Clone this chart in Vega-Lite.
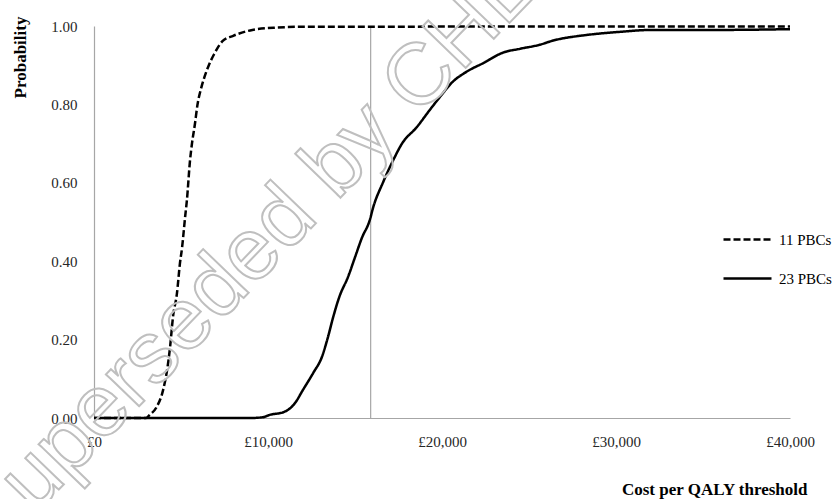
{
  "$schema": "https://vega.github.io/schema/vega-lite/v6.json",
  "width": 696,
  "height": 392,
  "autosize": {"type": "none"},
  "padding": {"left": 94, "top": 26, "right": 44, "bottom": 81},
  "background": "white",
  "config": {
    "view": {"stroke": null},
    "font": "Liberation Serif",
    "axis": {"labelFont": "Liberation Serif", "titleFont": "Liberation Serif", "labelFontSize": 15, "labelColor": "#262626", "titleColor": "#000000", "grid": false, "ticks": false, "domainColor": "#a6a6a6", "domainWidth": 1.2}
  },
  "layer": [
    {
      "data": {"values": [{"threshold": 15900}]},
      "mark": {"type": "rule", "color": "#a6a6a6", "strokeWidth": 1.2},
      "encoding": {"x": {"field": "threshold", "type": "quantitative"}}
    },
    {
      "data": {"values": [
        {"x": 0, "p": 0, "s": "11 PBCs"},
        {"x": 3000, "p": 0, "s": "11 PBCs"},
        {"x": 3200, "p": 0.008, "s": "11 PBCs"},
        {"x": 3600, "p": 0.028, "s": "11 PBCs"},
        {"x": 3970, "p": 0.071, "s": "11 PBCs"},
        {"x": 4200, "p": 0.122, "s": "11 PBCs"},
        {"x": 4370, "p": 0.18, "s": "11 PBCs"},
        {"x": 4540, "p": 0.258, "s": "11 PBCs"},
        {"x": 4770, "p": 0.319, "s": "11 PBCs"},
        {"x": 4940, "p": 0.395, "s": "11 PBCs"},
        {"x": 5060, "p": 0.434, "s": "11 PBCs"},
        {"x": 5230, "p": 0.51, "s": "11 PBCs"},
        {"x": 5340, "p": 0.556, "s": "11 PBCs"},
        {"x": 5520, "p": 0.658, "s": "11 PBCs"},
        {"x": 5630, "p": 0.7, "s": "11 PBCs"},
        {"x": 5800, "p": 0.75, "s": "11 PBCs"},
        {"x": 5950, "p": 0.8, "s": "11 PBCs"},
        {"x": 6150, "p": 0.84, "s": "11 PBCs"},
        {"x": 6350, "p": 0.87, "s": "11 PBCs"},
        {"x": 6600, "p": 0.9, "s": "11 PBCs"},
        {"x": 6900, "p": 0.928, "s": "11 PBCs"},
        {"x": 7400, "p": 0.962, "s": "11 PBCs"},
        {"x": 8000, "p": 0.975, "s": "11 PBCs"},
        {"x": 9100, "p": 0.99, "s": "11 PBCs"},
        {"x": 10500, "p": 0.996, "s": "11 PBCs"},
        {"x": 12000, "p": 0.998, "s": "11 PBCs"},
        {"x": 40000, "p": 0.999, "s": "11 PBCs"},
        {"x": 0, "p": 0, "s": "23 PBCs"},
        {"x": 9000, "p": 0, "s": "23 PBCs"},
        {"x": 9700, "p": 0.002, "s": "23 PBCs"},
        {"x": 10100, "p": 0.008, "s": "23 PBCs"},
        {"x": 10900, "p": 0.015, "s": "23 PBCs"},
        {"x": 11550, "p": 0.038, "s": "23 PBCs"},
        {"x": 12000, "p": 0.071, "s": "23 PBCs"},
        {"x": 12600, "p": 0.115, "s": "23 PBCs"},
        {"x": 13100, "p": 0.156, "s": "23 PBCs"},
        {"x": 13450, "p": 0.207, "s": "23 PBCs"},
        {"x": 13750, "p": 0.258, "s": "23 PBCs"},
        {"x": 14100, "p": 0.309, "s": "23 PBCs"},
        {"x": 14600, "p": 0.36, "s": "23 PBCs"},
        {"x": 15000, "p": 0.41, "s": "23 PBCs"},
        {"x": 15400, "p": 0.46, "s": "23 PBCs"},
        {"x": 15850, "p": 0.505, "s": "23 PBCs"},
        {"x": 16050, "p": 0.538, "s": "23 PBCs"},
        {"x": 16600, "p": 0.6, "s": "23 PBCs"},
        {"x": 17200, "p": 0.658, "s": "23 PBCs"},
        {"x": 17700, "p": 0.7, "s": "23 PBCs"},
        {"x": 18550, "p": 0.742, "s": "23 PBCs"},
        {"x": 19300, "p": 0.786, "s": "23 PBCs"},
        {"x": 19900, "p": 0.82, "s": "23 PBCs"},
        {"x": 20600, "p": 0.857, "s": "23 PBCs"},
        {"x": 21400, "p": 0.883, "s": "23 PBCs"},
        {"x": 22400, "p": 0.906, "s": "23 PBCs"},
        {"x": 23500, "p": 0.932, "s": "23 PBCs"},
        {"x": 24500, "p": 0.942, "s": "23 PBCs"},
        {"x": 25600, "p": 0.952, "s": "23 PBCs"},
        {"x": 26400, "p": 0.963, "s": "23 PBCs"},
        {"x": 28300, "p": 0.977, "s": "23 PBCs"},
        {"x": 30200, "p": 0.985, "s": "23 PBCs"},
        {"x": 32100, "p": 0.99, "s": "23 PBCs"},
        {"x": 36000, "p": 0.99, "s": "23 PBCs"},
        {"x": 40000, "p": 0.992, "s": "23 PBCs"}
      ]},
      "mark": {"type": "line", "color": "#000000", "strokeWidth": 2.5, "interpolate": "monotone"},
      "encoding": {
        "x": {"field": "x", "type": "quantitative", "scale": {"domain": [0, 40000], "nice": false},
          "axis": {"values": [0, 10000, 20000, 30000, 40000], "labelExpr": "'£' + format(datum.value, ',')", "labelPadding": 16, "labelFlush": false,
            "title": "Cost per QALY threshold", "titleFontSize": 17, "titleFontWeight": "bold", "titleAnchor": "end", "titleAlign": "right", "titleX": 713, "titleY": 76, "titleBaseline": "alphabetic"}},
        "y": {"field": "p", "type": "quantitative", "scale": {"domain": [0, 1], "nice": false},
          "axis": {"values": [0, 0.2, 0.4, 0.6, 0.8, 1], "format": ".2f", "labelPadding": 17,
            "title": "Probability", "titleFontSize": 17, "titleFontWeight": "bold", "titleX": -74, "titleY": 31, "titleAlign": "center", "titleBaseline": "middle", "titleAngle": -90}},
        "strokeDash": {"field": "s", "type": "nominal", "scale": {"domain": ["11 PBCs", "23 PBCs"], "range": [[7, 3], [1, 0]]},
          "legend": {"title": null, "orient": "none", "legendX": 628, "legendY": 188, "symbolType": "stroke", "symbolSize": 2304, "symbolStrokeWidth": 2.5, "symbolStrokeColor": "#000000", "labelFont": "Liberation Serif", "labelFontSize": 15, "labelColor": "#000000", "labelOffset": 6, "rowPadding": 5}}
      }
    },
    {
      "data": {"values": [{"x": 9000, "p": 0.42, "t": "Superseded by CHE"}]},
      "mark": {"type": "text", "font": "Liberation Sans", "fontSize": 87, "angle": -46, "align": "center", "baseline": "middle", "fill": null, "fillOpacity": 0, "stroke": "#bfbfbf", "strokeWidth": 2},
      "encoding": {
        "x": {"field": "x", "type": "quantitative"},
        "y": {"field": "p", "type": "quantitative"},
        "text": {"field": "t"}
      }
    }
  ]
}
